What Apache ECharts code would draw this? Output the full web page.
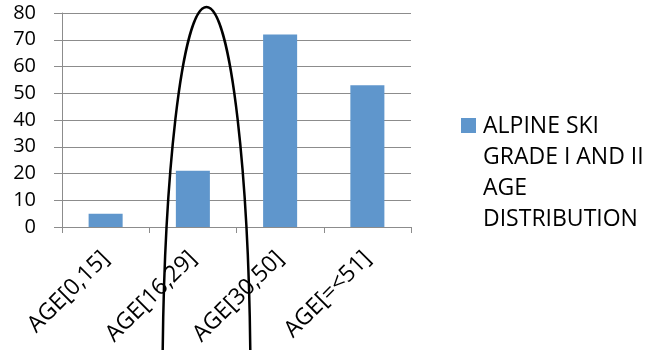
<!DOCTYPE html>
<html><head><meta charset="utf-8">
<script src="https://cdn.jsdelivr.net/npm/echarts@6/dist/echarts.min.js"></script>
<style>html,body{margin:0;padding:0;background:#fff}#c{width:647px;height:350px}</style>
</head><body><div id="c"></div>
<script>
const categories = ['AGE[0,15]', 'AGE[16,29]', 'AGE[30,50]', 'AGE[=<51]'];
const values = [5, 21, 72, 53];
const seriesName = 'ALPINE SKI\nGRADE I AND II\nAGE\nDISTRIBUTION';
const yMin = 0, yMax = 80, yInterval = 10;

const chart = echarts.init(document.getElementById('c'), null, {renderer: 'canvas'});
const font = '"Open Sans", sans-serif';
// legend icon: square aligned with first text line, transparent extent to full text height
const legendIcon = 'path://M0,0L0.01,0L0.01,0.01Z M0,7L15,7L15,22L0,22Z M0,124L0.01,124L0.01,123.99Z';
chart.setOption({
  animation: false,
  grid: {left: 62, right: 236, top: 13, bottom: 123},
  legend: {
    left: 461, top: 111, padding: 0, itemWidth: 15, itemHeight: 124, itemGap: 0,
    data: [{name: seriesName, icon: legendIcon}],
    textStyle: {fontFamily: font, fontSize: 23, color: '#000', lineHeight: 31, padding: [0, 0, 0, 2]},
    selectedMode: false
  },
  xAxis: {
    type: 'category', data: categories,
    axisLine: {lineStyle: {color: '#8c8c8c', width: 1}},
    axisTick: {show: true, length: 6, lineStyle: {color: '#8c8c8c'}},
    axisLabel: {rotate: 45, fontFamily: font, fontSize: 23, color: '#000', margin: 28, interval: 0}
  },
  yAxis: {
    type: 'value', min: yMin, max: yMax, interval: yInterval,
    axisLine: {show: true, lineStyle: {color: '#8c8c8c', width: 1}},
    axisTick: {show: true, length: 8, lineStyle: {color: '#8c8c8c'}},
    splitLine: {lineStyle: {color: '#8c8c8c', width: 1}},
    axisLabel: {fontFamily: font, fontSize: 20, color: '#000', margin: 26}
  },
  series: [{
    name: seriesName, type: 'bar', data: values, barWidth: '39%',
    itemStyle: {color: '#5f96cc'}
  }],
  graphic: [{
    type: 'ellipse', z: 100,
    shape: {cx: 206.5, cy: 390, rx: 44, ry: 383},
    style: {fill: 'none', stroke: '#000', lineWidth: 2.5}
  }]
});
</script></body></html>
